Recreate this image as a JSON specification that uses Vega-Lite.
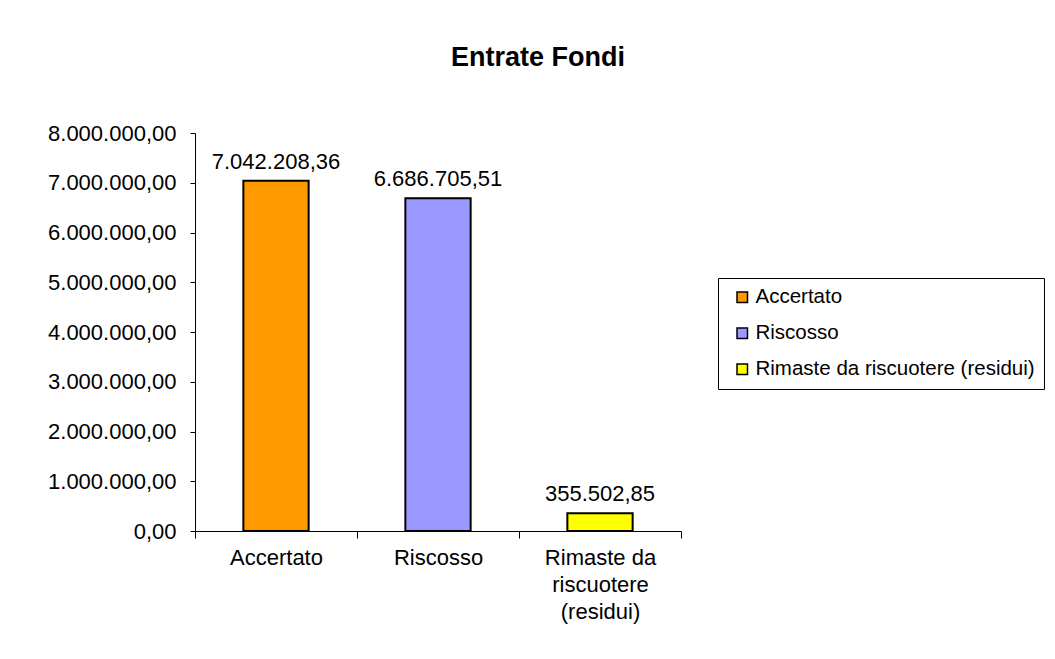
{
  "$schema": "https://vega.github.io/schema/vega-lite/v6.json",
  "autosize": {"type": "none"},
  "width": 486,
  "height": 398,
  "padding": {"left": 195, "top": 133, "right": 374, "bottom": 128},
  "background": "white",
  "config": {
    "locale": {"number": {"decimal": ",", "thousands": ".", "grouping": [3], "currency": ["", " €"]}},
    "font": "Liberation Sans",
    "view": {"stroke": null}
  },
  "title": {"text": "Entrate Fondi", "font": "Liberation Sans", "fontSize": 27, "fontWeight": "bold", "anchor": "middle", "frame": "bounds", "offset": 50, "dx": -8, "color": "black"},
  "data": {"values": [
    {"cat": "Accertato", "value": 7042208.36},
    {"cat": "Riscosso", "value": 6686705.51},
    {"cat": "Rimaste da riscuotere (residui)", "value": 355502.85}
  ]},
  "encoding": {
    "x": {"field": "cat", "type": "nominal", "sort": null,
      "scale": {"paddingInner": 0, "paddingOuter": 0},
      "axis": {"title": null, "labelAngle": 0, "tickBand": "extent", "tickSize": 7, "labelPadding": 9, "labelFontSize": 22, "labelLineHeight": 27, "labelColor": "black", "domainColor": "black", "tickColor": "black", "labelLimit": 400,
        "labelExpr": "datum.value == 'Rimaste da riscuotere (residui)' ? ['Rimaste da', 'riscuotere', '(residui)'] : datum.value"}},
    "y": {"field": "value", "type": "quantitative", "scale": {"domain": [0, 8000000]},
      "axis": {"title": null, "format": ",.2f", "values": [0, 1000000, 2000000, 3000000, 4000000, 5000000, 6000000, 7000000, 8000000], "grid": false, "tickSize": 5, "labelPadding": 14, "labelFontSize": 22, "labelColor": "black", "domainColor": "black", "tickColor": "black"}}
  },
  "layer": [
    {"mark": {"type": "bar", "width": {"band": 0.403}, "stroke": "black", "strokeWidth": 2},
     "encoding": {"color": {"field": "cat", "type": "nominal", "sort": null,
       "scale": {"domain": ["Accertato", "Riscosso", "Rimaste da riscuotere (residui)"], "range": ["#FF9900", "#9999FF", "#FFFF00"]},
       "legend": {"title": null, "orient": "none", "legendX": 523, "legendY": 145, "strokeColor": "black", "fillColor": "white", "padding": 9, "symbolType": "square", "symbolSize": 110, "symbolStrokeColor": "black", "symbolStrokeWidth": 1.5, "symbolOpacity": 1, "labelFontSize": 20.5, "labelColor": "black", "rowPadding": 15, "symbolOffset": 5, "labelOffset": 3, "labelLimit": 400}}}},
    {"mark": {"type": "text", "baseline": "bottom", "dy": -7, "fontSize": 22, "color": "black"},
     "encoding": {"text": {"field": "value", "type": "quantitative", "format": ",.2f"}}}
  ]
}
